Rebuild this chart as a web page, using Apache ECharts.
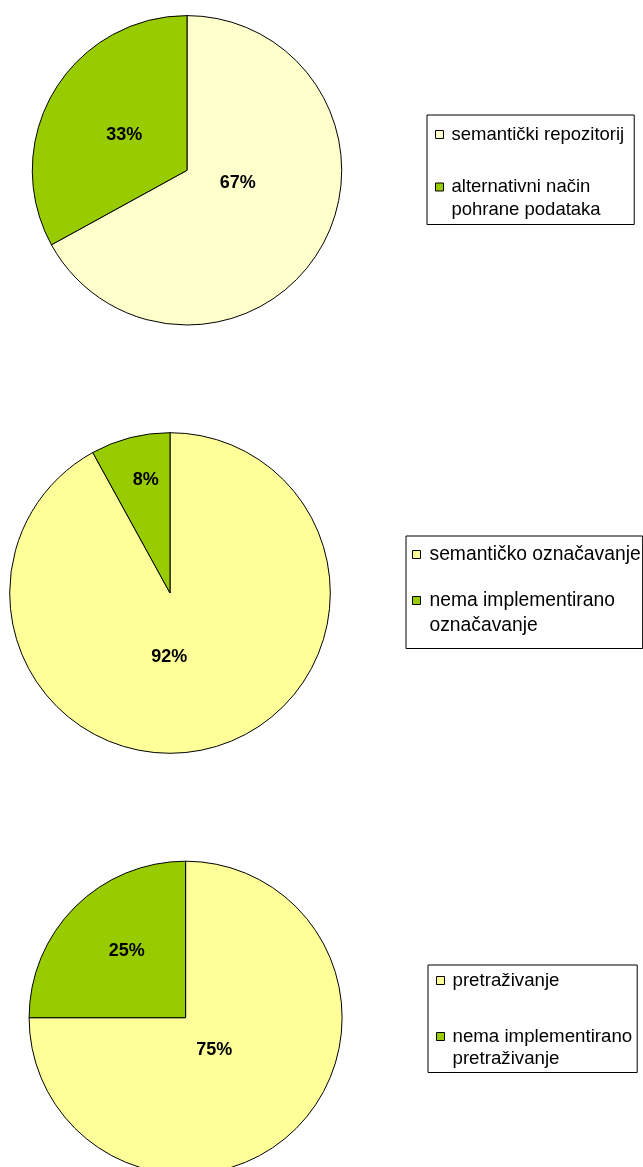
<!DOCTYPE html>
<html>
<head>
<meta charset="utf-8">
<style>
  html, body { margin: 0; padding: 0; background: #fff; }
  #chart { width: 643px; height: 1167px; }
</style>
<script src="https://cdn.jsdelivr.net/npm/echarts@6/dist/echarts.min.js"></script>
</head>
<body>
<div id="chart"></div>
<script>
// Slice names (legend text) and percentage values for the three pies
const repoNames = ['semantički repozitorij', 'alternativni način\npohrane podataka'];
const repoValues = [67, 33];

const tagNames = ['semantičko označavanje', 'nema implementirano\noznačavanje'];
const tagValues = [92, 8];

const searchNames = ['pretraživanje', 'nema implementirano\npretraživanje'];
const searchValues = [75, 25];

// Layout of each pie: centre, radius, slice colours, label offsets from centre
const pies = [
  { names: repoNames, values: repoValues, center: [187, 170.3], radius: 154.7,
    colors: ['#FFFFCC', '#99CC00'], labelOff: [[50.7, 13], [-62.7, -35.3]],
    legend: { left: 427, top: 115, font: 18.5, lh: 23, pad: [8, 10, 3, 8], gap: 6.5, txtLeft: 3 } },
  { names: tagNames, values: tagValues, center: [170, 593], radius: 160.3,
    colors: ['#FFFF99', '#99CC00'], labelOff: [[-0.7, 64.3], [-24.3, -113]],
    legend: { left: 406, top: 536, font: 19.3, lh: 25, pad: [6, 2, 10.5, 6], gap: -4, txtLeft: 4 } },
  { names: searchNames, values: searchValues, center: [185.6, 1017.7], radius: 156.5,
    colors: ['#FFFF99', '#99CC00'], labelOff: [[28.7, 32.3], [-58.9, -66.7]],
    legend: { left: 428, top: 965, font: 18.7, lh: 22, pad: [4.5, 5, 3, 8], gap: 12, txtLeft: 3 } }
];

const FONT = '"Liberation Sans", Arial, Helvetica, sans-serif';

const series = pies.map(function (p) {
  return {
    type: 'pie',
    center: p.center,
    radius: p.radius,
    startAngle: 90,
    clockwise: true,
    avoidLabelOverlap: false,
    animation: false,
    silent: true,
    itemStyle: { borderColor: '#000', borderWidth: 1 },
    label: {
      show: true,
      position: 'inside',
      formatter: function (d) { return d.value + '%'; },
      color: '#000',
      fontFamily: FONT,
      fontWeight: 'bold',
      fontSize: 18
    },
    labelLine: { show: false },
    labelLayout: function (params) {
      const off = p.labelOff[params.dataIndex];
      return { x: p.center[0] + off[0], y: p.center[1] + off[1], align: 'center', verticalAlign: 'middle' };
    },
    emphasis: { disabled: true },
    data: p.names.map(function (n, i) {
      return { name: n, value: p.values[i], itemStyle: { color: p.colors[i] } };
    })
  };
});

const legends = pies.map(function (p) {
  const L = p.legend;
  return {
    orient: 'vertical',
    left: L.left,
    top: L.top,
    padding: L.pad,
    itemGap: L.gap,
    itemWidth: 8,
    itemHeight: 8,
    icon: 'rect',
    selectedMode: false,
    borderColor: '#000',
    borderWidth: 1,
    backgroundColor: '#fff',
    itemStyle: { borderColor: '#000', borderWidth: 1 },
    // a wrapped entry gets an empty leading line so its square sits beside the first line
    formatter: function (name) {
      return name.indexOf('\n') >= 0 ? '\n' + name : name;
    },
    textStyle: { color: '#000', fontFamily: FONT, fontSize: L.font, lineHeight: L.lh,
                 padding: [0, 0, 0, L.txtLeft] },
    data: [p.names[0], p.names[1]]
  };
});

const chart = echarts.init(document.getElementById('chart'), null, { renderer: 'canvas' });
chart.setOption({
  backgroundColor: '#fff',
  animation: false,
  legend: legends,
  series: series
});
</script>
</body>
</html>
